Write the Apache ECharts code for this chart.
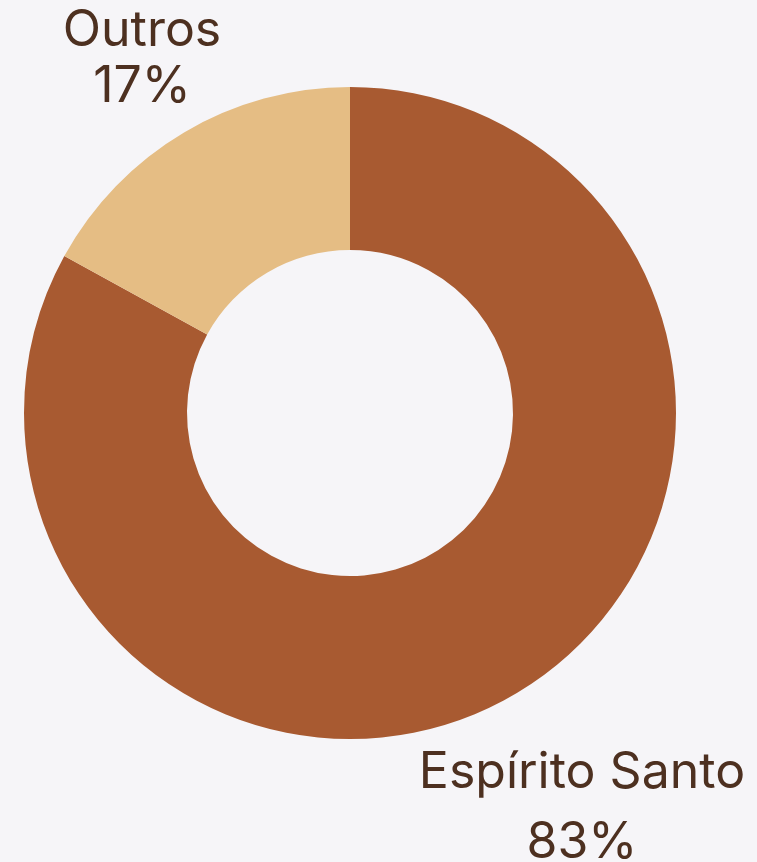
<!DOCTYPE html>
<html>
<head>
<meta charset="utf-8">
<script src="https://cdn.jsdelivr.net/npm/echarts@6/dist/echarts.min.js"></script>
<style>
  html, body { margin: 0; padding: 0; background: #f6f5f8; }
  #chart { width: 757px; height: 862px; }
</style>
</head>
<body>
<div id="chart"></div>
<script>
// dados
const categories = ['Espírito Santo', 'Outros']
const values = [83, 17]
const colors = ['#a85a31', '#e5bd84']

const chart = echarts.init(document.getElementById('chart'))

// posição dos rótulos (texto)
const labelPos = [
  { x: 582, y: 808, lh: 70 },
  { x: 142, y: 59, lh: 56 }
]

chart.setOption({
  backgroundColor: '#f6f5f8',
  animation: false,
  series: [
    {
      type: 'pie',
      center: [350, 413],
      radius: [163, 326],
      startAngle: 90,
      clockwise: true,
      silent: true,
      data: categories.map((name, i) => ({
        name: name,
        value: values[i],
        itemStyle: { color: colors[i] },
        label: { lineHeight: labelPos[i].lh }
      })),
      label: {
        show: true,
        position: 'outside',
        formatter: '{b}\n{d}%',
        color: '#4d3020',
        fontFamily: 'Inter',
        fontSize: 50,
        overflow: 'none',
        align: 'center'
      },
      labelLine: { show: false },
      labelLayout: function (params) {
        const p = labelPos[params.dataIndex]
        return {
          x: p.x,
          y: p.y,
          align: 'center',
          verticalAlign: 'middle'
        }
      }
    }
  ]
})
</script>
</body>
</html>
